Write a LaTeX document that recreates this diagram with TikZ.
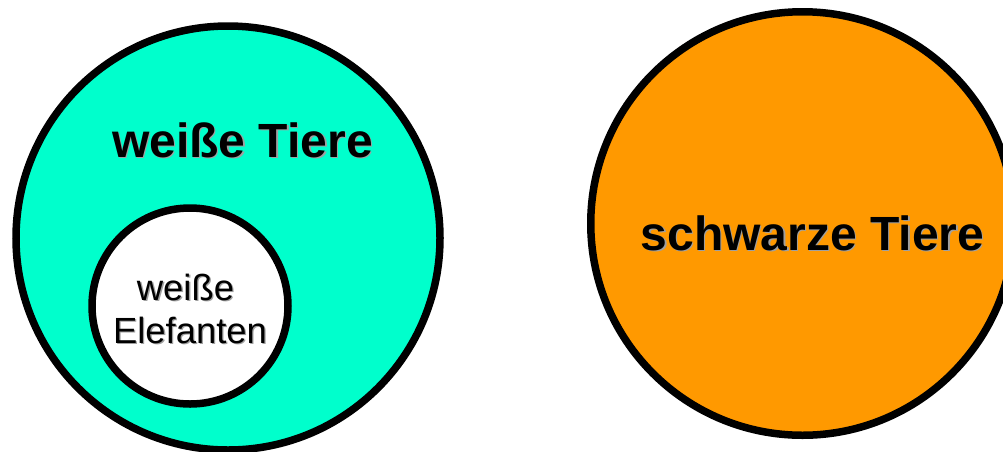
\documentclass[tikz,border=0pt]{standalone}
\usepackage{fontspec}
\setmainfont{Liberation Sans}
\definecolor{mint}{RGB}{0,255,204}
\definecolor{tangerine}{RGB}{255,153,0}
\definecolor{shadowgray}{RGB}{160,160,160}
\tikzset{
  setcircle/.style={circle, draw=black, line width=7.5pt, inner sep=0pt},
  bigtext/.style={anchor=base, inner sep=0pt, font=\fontsize{48}{56}\selectfont\bfseries},
  smalltext/.style={anchor=base, inner sep=0pt, font=\fontsize{36.4}{43}\selectfont},
  shadowed/.style={text=shadowgray},
}
\begin{document}
\begin{tikzpicture}[x=1pt,y=-1pt]
\useasboundingbox (0,0) rectangle (1003,451);
\clip (0,0) rectangle (1003,451);
\node[setcircle, fill=mint, minimum size=424pt] (weiss) at (228,238) {};
\node[setcircle, fill=white, minimum size=196pt] (elef) at (190,306) {};
\node[setcircle, fill=tangerine, minimum size=423.5pt] (schwarz) at (802.5,223.5) {};
% labels with soft shadow
\node[bigtext, shadowed] (weissS) at (243.8,158.2) {weiße Tiere};
\node[bigtext] (weissT) at (242.5,157) {weiße Tiere};
\node[bigtext, shadowed] (schwarzS) at (813.8,251.2) {schwarze Tiere};
\node[bigtext] (schwarzT) at (812.5,250) {schwarze Tiere};
\node[smalltext, shadowed] (elefS1) at (186.8,301.2) {weiße};
\node[smalltext] (elefT1) at (185.5,300) {weiße};
\node[smalltext, shadowed] (elefS2) at (191.3,344.2) {Elefanten};
\node[smalltext] (elefT2) at (190,343) {Elefanten};
\end{tikzpicture}
\end{document}
